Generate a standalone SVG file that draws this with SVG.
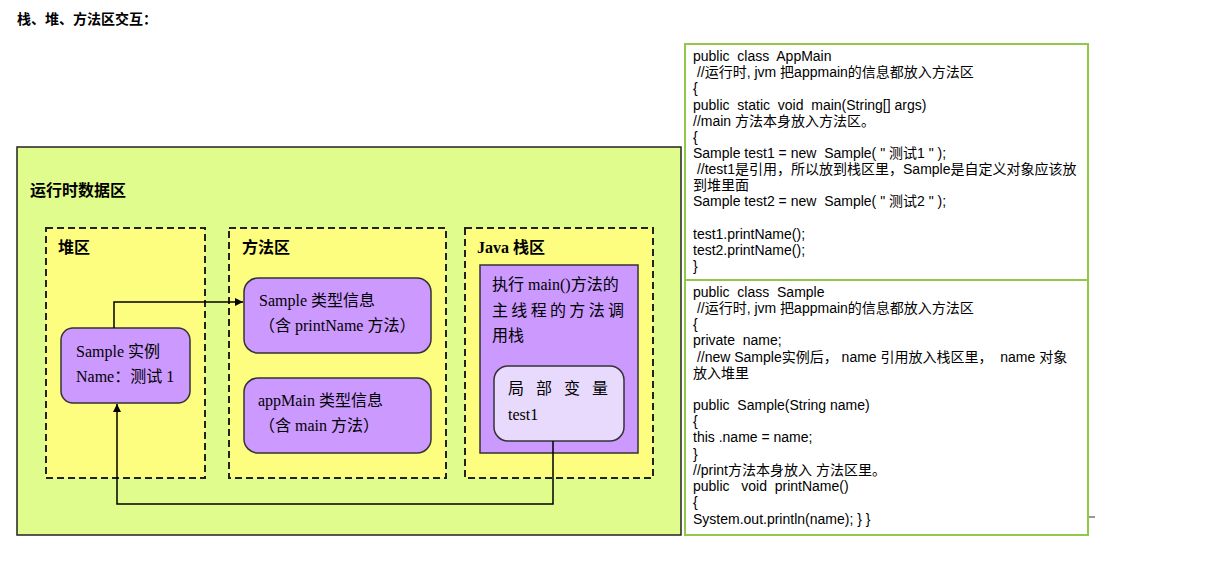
<svg xmlns="http://www.w3.org/2000/svg" width="1214" height="578" viewBox="0 0 1214 578">
<defs>
<marker id="arr" viewBox="0 0 10 10" refX="10" refY="5" markerWidth="8" markerHeight="8" markerUnits="userSpaceOnUse" orient="auto"><path d="M0,0 L10,5 L0,10 z" fill="#000"/></marker>
<style>
.cjkb{font-family:"Liberation Serif","Noto Sans CJK SC",serif;font-weight:bold;fill:#000}
.dt{font-family:"Liberation Serif","Noto Sans CJK SC",serif;font-size:16px;fill:#000}
.code{font-family:"Liberation Sans","Noto Sans CJK SC",sans-serif;font-size:14px;fill:#000;white-space:pre}
.zone{fill:#fdfd80;stroke:#222;stroke-width:2;stroke-dasharray:7,4}
.node{fill:#cc99ff;stroke:#333;stroke-width:1.5}
.conn{fill:none;stroke:#000;stroke-width:1.5}
.panel{fill:#fff;stroke:#92c84a;stroke-width:2}
</style>
</defs>
<rect width="1214" height="578" fill="#fff"/>
<text class="cjkb" x="17" y="24" font-size="14">栈、堆、方法区交互：</text>

<g id="runtime">
<rect x="17" y="147" width="664" height="388" fill="#e0fc8c" stroke="#222" stroke-width="1.5"/>
<text class="cjkb" x="30" y="196" font-size="16">运行时数据区</text>
</g>
<g id="heap">
<rect class="zone" x="46" y="228" width="159" height="250"/>
<text class="cjkb" x="58" y="253" font-size="16">堆区</text>
</g>
<g id="method">
<rect class="zone" x="229" y="228" width="217" height="250"/>
<text class="cjkb" x="242" y="253" font-size="16">方法区</text>
</g>
<g id="stack">
<rect class="zone" x="465" y="228" width="188" height="250"/>
<text class="cjkb" x="477" y="253" font-size="16">Java 栈区</text>
</g>
<g id="sample-instance">
<rect class="node" x="61" y="328" width="129" height="75" rx="12"/>
<text class="dt" x="76" y="357">Sample 实例</text>
<text class="dt" x="76" y="382">Name：测试 1</text>
</g>
<g id="sample-type">
<rect class="node" x="244" y="278" width="187" height="75" rx="14"/>
<text class="dt" x="259" y="306">Sample 类型信息</text>
<text class="dt" x="259" y="331">（含 printName 方法）</text>
</g>
<g id="appmain-type">
<rect class="node" x="244" y="378" width="187" height="75" rx="14"/>
<text class="dt" x="258" y="406">appMain 类型信息</text>
<text class="dt" x="259" y="431">（含 main 方法）</text>
</g>
<g id="main-thread">
<rect class="node" x="480" y="265" width="158" height="188"/>
<text class="dt" x="492" y="290">执行 main()方法的</text>
<text class="dt" x="492" y="316" textLength="132" lengthAdjust="spacing">主线程的方法调</text>
<text class="dt" x="492" y="341">用栈</text>
</g>
<g id="local-var">
<rect x="494" y="366" width="130" height="75" rx="14" fill="#e8dafc" stroke="#333" stroke-width="1.5"/>
<text class="dt" x="508" y="394" textLength="100" lengthAdjust="spacing">局部变量</text>
<text class="dt" x="508" y="420">test1</text>
</g>
<g id="connectors">
<path class="conn" d="M114,328 V302 H243" marker-end="url(#arr)"/>
<path class="conn" d="M553,441 V504 H117 V404" marker-end="url(#arr)"/>
</g>

<g id="code-appmain">
<rect class="panel" x="685" y="44" width="403" height="236"/>
<text class="code" x="693" y="61">public  class  AppMain</text>
<text class="code" x="693" y="77"> //运行时, jvm 把appmain的信息都放入方法区</text>
<text class="code" x="693" y="93">{</text>
<text class="code" x="693" y="110">public  static  void  main(String[] args)</text>
<text class="code" x="693" y="126">//main 方法本身放入方法区。</text>
<text class="code" x="693" y="142">{</text>
<text class="code" x="693" y="158">Sample test1 = new  Sample( " 测试1 " );</text>
<text class="code" x="693" y="174"> //test1是引用，所以放到栈区里，Sample是自定义对象应该放</text>
<text class="code" x="693" y="190">到堆里面</text>
<text class="code" x="693" y="206">Sample test2 = new  Sample( " 测试2 " );</text>
<text class="code" x="693" y="239">test1.printName();</text>
<text class="code" x="693" y="255">test2.printName();</text>
<text class="code" x="693" y="271">}</text>
</g>
<g id="code-sample">
<rect class="panel" x="685" y="280" width="403" height="255"/>
<text class="code" x="693" y="297">public  class  Sample</text>
<text class="code" x="693" y="313"> //运行时, jvm 把appmain的信息都放入方法区</text>
<text class="code" x="693" y="329">{</text>
<text class="code" x="693" y="345">private  name;</text>
<text class="code" x="693" y="362"> //new Sample实例后， name 引用放入栈区里，  name 对象</text>
<text class="code" x="693" y="378">放入堆里</text>
<text class="code" x="693" y="410">public  Sample(String name)</text>
<text class="code" x="693" y="426">{</text>
<text class="code" x="693" y="442">this .name = name;</text>
<text class="code" x="693" y="459">}</text>
<text class="code" x="693" y="475">//print方法本身放入 方法区里。</text>
<text class="code" x="693" y="491">public   void  printName()</text>
<text class="code" x="693" y="507">{</text>
<text class="code" x="693" y="524">System.out.println(name); } }</text>
</g>
<line x1="1089" y1="517" x2="1095" y2="517" stroke="#333" stroke-width="1"/>
</svg>
